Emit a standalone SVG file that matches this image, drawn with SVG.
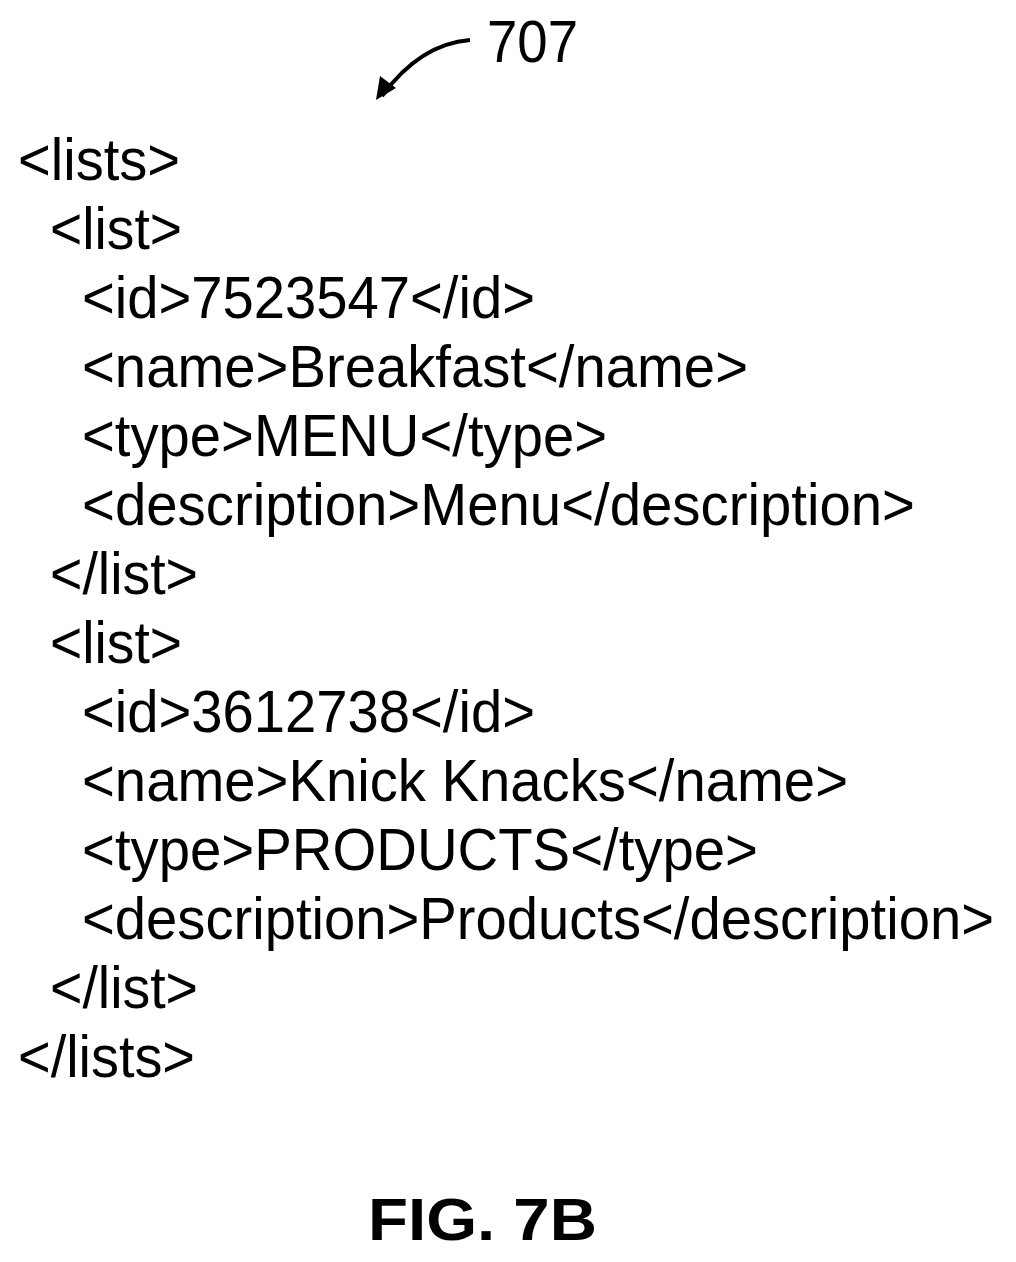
<svg xmlns="http://www.w3.org/2000/svg" width="1016" height="1262" viewBox="0 0 1016 1262">
<style>
.t{font-family:"Liberation Sans",Arial,sans-serif;font-size:60px;fill:#000}
</style>
<rect width="1016" height="1262" fill="#fff"/>
<g id="connectors">
<path d="M470,40 Q420,44 382,96" fill="none" stroke="#000" stroke-width="4"/>
<path d="M376,100 L380,76 L396,88 z" fill="#000"/>
</g>
<g id="label707"><text class="t" x="487" y="62" font-size="50" textLength="91" lengthAdjust="spacingAndGlyphs">707</text></g>
<g id="code">
<text class="t" x="18" y="180" textLength="162" lengthAdjust="spacingAndGlyphs">&lt;lists&gt;</text>
<text class="t" x="50" y="249" textLength="132" lengthAdjust="spacingAndGlyphs">&lt;list&gt;</text>
<text class="t" x="82" y="318" textLength="453" lengthAdjust="spacingAndGlyphs">&lt;id&gt;7523547&lt;/id&gt;</text>
<text class="t" x="82" y="387" textLength="666" lengthAdjust="spacingAndGlyphs">&lt;name&gt;Breakfast&lt;/name&gt;</text>
<text class="t" x="82" y="456" textLength="525" lengthAdjust="spacingAndGlyphs">&lt;type&gt;MENU&lt;/type&gt;</text>
<text class="t" x="82" y="525" textLength="833" lengthAdjust="spacingAndGlyphs">&lt;description&gt;Menu&lt;/description&gt;</text>
<text class="t" x="50" y="594" textLength="148" lengthAdjust="spacingAndGlyphs">&lt;/list&gt;</text>
<text class="t" x="50" y="663" textLength="132" lengthAdjust="spacingAndGlyphs">&lt;list&gt;</text>
<text class="t" x="82" y="732" textLength="453" lengthAdjust="spacingAndGlyphs">&lt;id&gt;3612738&lt;/id&gt;</text>
<text class="t" x="82" y="801" textLength="766" lengthAdjust="spacingAndGlyphs">&lt;name&gt;Knick Knacks&lt;/name&gt;</text>
<text class="t" x="82" y="870" textLength="676" lengthAdjust="spacingAndGlyphs">&lt;type&gt;PRODUCTS&lt;/type&gt;</text>
<text class="t" x="82" y="939" textLength="912" lengthAdjust="spacingAndGlyphs">&lt;description&gt;Products&lt;/description&gt;</text>
<text class="t" x="50" y="1008" textLength="148" lengthAdjust="spacingAndGlyphs">&lt;/list&gt;</text>
<text class="t" x="18" y="1077" textLength="177" lengthAdjust="spacingAndGlyphs">&lt;/lists&gt;</text>
</g>
<g id="caption"><text class="t" x="368" y="1240" font-weight="bold" textLength="229" lengthAdjust="spacingAndGlyphs">FIG. 7B</text></g>
</svg>
